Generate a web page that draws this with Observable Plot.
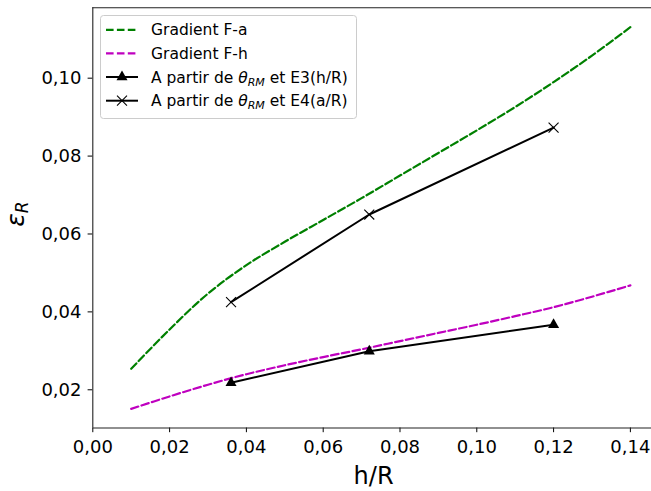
<!DOCTYPE html>
<html><head><meta charset="utf-8">
<script src="https://cdn.jsdelivr.net/npm/d3@7"></script>
<script src="https://cdn.jsdelivr.net/npm/@observablehq/plot@0.6"></script>
<style>body{margin:0;background:#fff}</style>
</head><body><div id="chart"></div>
<script>
// ---- data ----
const gradX  = [0.01, 0.02, 0.03, 0.04, 0.05, 0.06, 0.07, 0.08, 0.09, 0.10, 0.11, 0.12, 0.13, 0.14];
const gradFa = [0.0254, 0.0355, 0.0447, 0.0520, 0.0580, 0.0636, 0.0692, 0.0750, 0.0808, 0.0866, 0.0926, 0.0990, 0.1058, 0.1131];
const gradFh = [0.0151, 0.0183, 0.0213, 0.0240, 0.0263, 0.0284, 0.0304, 0.0325, 0.0346, 0.0367, 0.0389, 0.0412, 0.0439, 0.0468];
const expX   = [0.036, 0.072, 0.12];
const e3Vals = [0.0218, 0.0299, 0.0367];
const e4Vals = [0.0425, 0.0650, 0.0873];
const xTicks = [0, 0.02, 0.04, 0.06, 0.08, 0.10, 0.12, 0.14];
const yTicks = [0.02, 0.04, 0.06, 0.08, 0.10];
const seriesNames = ["Gradient F-a", "Gradient F-h", "A partir de θRM et E3(h/R)", "A partir de θRM et E4(a/R)"];
const xLabel = "h/R";

// ---- scale configuration ----
const xDomain = [0, 0.1455];
const yDomain = [0.01019, 0.11807];
const fmt = d => d3.format(".2f")(d).replace(".", ",");

const fa = gradX.map((x, i) => ({x, y: gradFa[i]}));
const fh = gradX.map((x, i) => ({x, y: gradFh[i]}));
const e3 = expX.map((x, i) => ({x, y: e3Vals[i]}));
const e4 = expX.map((x, i) => ({x, y: e4Vals[i]}));

const dash = "7.6,3.3";
const chart = Plot.plot({
  width: 651, height: 491,
  marginLeft: 92.3, marginRight: 0, marginTop: 7.3, marginBottom: 63.5,
  style: {fontFamily: "'DejaVu Sans', sans-serif", fontSize: "18px", color: "black", background: "white", overflow: "visible"},
  x: {domain: xDomain, ticks: xTicks, tickFormat: fmt, tickSize: 4.7, tickPadding: 7.5, label: null},
  y: {domain: yDomain, ticks: yTicks, tickFormat: fmt, tickSize: 4.7, tickPadding: 6.6, label: null},
  marks: [
    Plot.line(fa, {x: "x", y: "y", stroke: "#008000", strokeWidth: 2.2, strokeDasharray: dash, curve: "catmull-rom"}),
    Plot.line(fh, {x: "x", y: "y", stroke: "#bf00bf", strokeWidth: 2.2, strokeDasharray: dash, curve: "catmull-rom"}),
    Plot.line(e3, {x: "x", y: "y", stroke: "black", strokeWidth: 2}),
    Plot.dot(e3, {x: "x", y: "y", symbol: "triangle", r: 4.1, fill: "black", stroke: "none"}),
    Plot.line(e4, {x: "x", y: "y", stroke: "black", strokeWidth: 2}),
    Plot.dot(e4, {x: "x", y: "y", symbol: "times", r: 4.6, stroke: "black", strokeWidth: 1.1}),
    Plot.ruleX([xDomain[0]], {stroke: "#222", strokeWidth: 1.1}),
    Plot.ruleY([yDomain[0]], {stroke: "#222", strokeWidth: 1.1}),
    Plot.ruleY([yDomain[1]], {stroke: "#222", strokeWidth: 1.1})
  ]
});
document.getElementById("chart").appendChild(chart);

// ---- axis titles and legend ----
const svg = d3.select(chart);
const F = "'DejaVu Sans', sans-serif";
svg.append("text").attr("x", 373.6).attr("y", 484).attr("text-anchor", "middle")
  .attr("font-family", F).attr("font-size", 24).attr("fill", "black").text(xLabel);

const yl = svg.append("text").attr("transform", "translate(23.5,214) rotate(-90)")
  .attr("text-anchor", "middle").attr("font-family", F).attr("font-size", 25).attr("fill", "black");
yl.append("tspan").attr("font-style", "italic").text("ε");
yl.append("tspan").attr("font-style", "italic").attr("font-size", 17).attr("dy", 4).text("R");

const lg = svg.append("g");
lg.append("rect").attr("x", 100.5).attr("y", 15.5).attr("width", 256).attr("height", 103).attr("rx", 3)
  .attr("fill", "white").attr("fill-opacity", 0.8).attr("stroke", "#cccccc");
const rows = [29.8, 53.3, 77, 100.7];
const styles = [
  {stroke: "#008000", dash: dash, marker: null},
  {stroke: "#bf00bf", dash: dash, marker: null},
  {stroke: "black", dash: null, marker: "tri"},
  {stroke: "black", dash: null, marker: "x"}
];
seriesNames.forEach((name, i) => {
  const y = rows[i], s = styles[i];
  const ln = lg.append("line").attr("x1", 106).attr("x2", 138).attr("y1", y).attr("y2", y)
    .attr("stroke", s.stroke).attr("stroke-width", s.dash ? 2.2 : 2);
  if (s.dash) ln.attr("stroke-dasharray", s.dash);
  if (s.marker === "tri") lg.append("path").attr("d", d3.symbol(d3.symbolTriangle, Math.PI * 4.1 * 4.1)()).attr("transform", `translate(122,${y})`).attr("fill", "black");
  if (s.marker === "x") lg.append("path").attr("d", d3.symbol(d3.symbolTimes, Math.PI * 4.6 * 4.6)()).attr("transform", `translate(122,${y})`).attr("fill", "none").attr("stroke", "black").attr("stroke-width", 1.1);
  const t = lg.append("text").attr("x", 151).attr("y", y).attr("dy", "0.36em").attr("text-anchor", "start")
    .attr("font-family", F).attr("font-size", 15.5).attr("fill", "black");
  const m = name.match(/^(.*)θRM(.*)$/);
  if (m) {
    t.append("tspan").text(m[1]);
    t.append("tspan").attr("font-style", "italic").text("θ");
    t.append("tspan").attr("font-style", "italic").attr("font-size", 11).attr("dy", 3).text("RM");
    t.append("tspan").attr("dy", -3).text(m[2]);
  } else {
    t.text(name);
  }
});
</script>
</body></html>
